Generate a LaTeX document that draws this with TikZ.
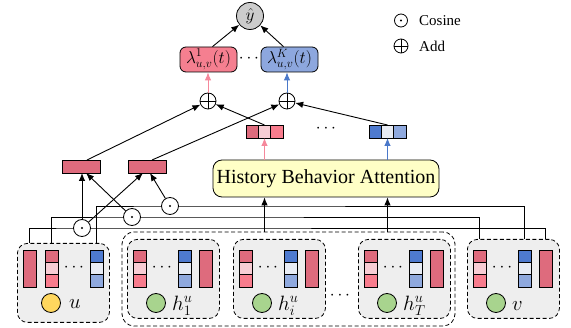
\documentclass[tikz,border=0pt]{standalone}
\usepackage{fontspec}
\setmainfont{Liberation Serif}
\usetikzlibrary{arrows.meta,calc,backgrounds}

\definecolor{barred}{HTML}{DE6B7D}
\definecolor{cellpale}{HTML}{F7CDD4}
\definecolor{cellpink}{HTML}{F87C8D}
\definecolor{celldblue}{HTML}{4E7ACF}
\definecolor{cellpaleblue}{HTML}{E8ECF4}
\definecolor{cellmblue}{HTML}{8FA9DE}
\definecolor{lamred}{HTML}{F57F90}
\definecolor{lamblue}{HTML}{8DA7DE}
\definecolor{hbayellow}{HTML}{FFFFC6}
\definecolor{boxgray}{HTML}{EEEEEE}
\definecolor{ucircle}{HTML}{FFD75E}
\definecolor{hcircle}{HTML}{A8D48E}
\definecolor{yhatgray}{HTML}{CCCCCC}
\definecolor{arrpink}{HTML}{F5889B}
\definecolor{arrblue}{HTML}{4A78C9}

\tikzset{
  cell/.style={draw, line width=0.8pt, minimum width=13pt, minimum height=12.33pt,
    inner sep=0pt, outer sep=0pt},
  tallbar/.style={cell, minimum height=37pt, fill=barred},
  hcell/.style={draw, line width=0.8pt, minimum width=12.33pt, minimum height=13pt,
    inner sep=0pt, outer sep=0pt},
  flatbar/.style={draw, line width=0.8pt, fill=barred, minimum width=38pt,
    minimum height=13pt, inner sep=0pt, outer sep=0pt},
  embbox/.style={draw, line width=0.8pt, dash pattern=on 4pt off 2.5pt, fill=boxgray,
    rounded corners=10pt, minimum width=92pt, minimum height=79pt, inner sep=0pt},
  groupbox/.style={draw, line width=0.8pt, dash pattern=on 4pt off 2.5pt,
    rounded corners=12pt, minimum width=333pt, minimum height=94pt, inner sep=0pt},
  embdot/.style={circle, draw, line width=0.8pt, minimum size=19pt, inner sep=0pt},
  lambox/.style={draw, line width=0.8pt, rounded corners=6pt, minimum width=57pt,
    minimum height=25pt, inner sep=0pt, font=\fontsize{18.5}{20}\selectfont},
  arr/.style={-{Latex[length=8pt,width=6.5pt]}, line width=0.9pt},
  wire/.style={line width=0.8pt},
  cosnode/.style={circle, draw, fill=white, minimum size=17pt, inner sep=0pt,
    line width=0.8pt,
    path picture={\fill[black] (path picture bounding box.center) circle (1.2pt);}},
  addnode/.style={circle, draw, fill=white, minimum size=16pt, inner sep=0pt,
    line width=0.8pt,
    path picture={\draw[line width=0.8pt]
      (path picture bounding box.north) -- (path picture bounding box.south)
      (path picture bounding box.west) -- (path picture bounding box.east);}},
  dotsnode/.style={inner sep=0pt, font=\fontsize{17}{20}\selectfont},
  mathlabel/.style={inner sep=0pt, anchor=base west, font=\fontsize{22}{25}\selectfont},
  legendtext/.style={inner sep=0pt, anchor=base west, font=\fontsize{15}{18}\selectfont},
}

% a column vector of three cells: name, x centre, top/middle/bottom colours
\newcommand{\vstack}[5]{%
  \node[cell, fill=#3] (#1-1) at (#2,256.17) {};
  \node[cell, fill=#4] (#1-2) at (#2,268.5) {};
  \node[cell, fill=#5] (#1-3) at (#2,280.83) {};
}
% a row vector of three cells: name, x of left edge, y centre, left/middle/right colours
\newcommand{\hstack}[6]{%
  \node[hcell, fill=#4] (#1-1) at ({#2+6.17},#3) {};
  \node[hcell, fill=#5] (#1-2) at ({#2+18.5},#3) {};
  \node[hcell, fill=#6] (#1-3) at ({#2+30.83},#3) {};
}
% one history item or the target item: name, left edge, circle colour, label
\newcommand{\member}[4]{%
  \node[embbox, anchor=north west] (#1) at (#2,239) {};
  \vstack{#1s}{#2+12.5}{barred}{cellpale}{cellpink}
  \node[dotsnode] (#1d) at ({#2+35},268) {$\cdots$};
  \vstack{#1b}{#2+57.5}{celldblue}{cellpaleblue}{cellmblue}
  \node[tallbar] (#1r) at ({#2+78.5},268.5) {};
  \node[embdot, fill=#3] (#1c) at ({#2+29},303) {};
  \node[mathlabel] (#1l) at ({#2+45},310.5) {#4};
}

\begin{document}
\begin{tikzpicture}[x=1pt,y=-1pt]
\useasboundingbox (0,0) rectangle (571,328);

% output and per-type intensities
\node[circle, draw, line width=0.8pt, fill=yhatgray, minimum size=27pt, inner sep=0pt,
  font=\fontsize{19}{21}\selectfont] (yhat) at (250,16) {$\hat{y}$};
\node[lambox, fill=lamred] (lam1) at (208.5,59.5) {$\lambda^{1}_{u,v}(t)$};
\node[lambox, fill=lamblue] (lamK) at (289.5,59.5) {$\lambda^{K}_{u,v}(t)$};
\node[dotsnode, font=\fontsize{16}{18}\selectfont] (lamdots) at (249,59) {$\cdots$};

\node[addnode] (add1) at (208,101) {};
\node[addnode] (add2) at (287,101) {};

% legend
\node[cosnode, minimum size=13pt] (lgcos) at (401,20.5) {};
\node[legendtext] (lgcostext) at (419,26) {Cosine};
\node[addnode, minimum size=14pt] (lgadd) at (401,46) {};
\node[legendtext] (lgaddtext) at (419,52) {Add};

% attention outputs
\hstack{pv}{246}{131.5}{barred}{cellpale}{cellpink}
\node[dotsnode] (vecdots) at (326,129) {$\cdots$};
\hstack{bv}{369}{131.5}{celldblue}{cellpaleblue}{cellmblue}

\node[draw, line width=0.8pt, fill=hbayellow, rounded corners=9pt, minimum width=226pt,
  minimum height=37pt, inner sep=0pt, font=\fontsize{20}{22}\selectfont]
  (hba) at (326,178.5) {History Behavior Attention};

% similarity features
\node[flatbar] (bar1) at (81,166.5) {};
\node[flatbar] (bar2) at (147,166.5) {};

\node[cosnode] (c1) at (82,228) {};
\node[cosnode] (c2) at (132,217) {};
\node[cosnode] (c3) at (170,206) {};

% user item
\node[embbox, anchor=north west] (ubox) at (17,243) {};
\node[tallbar] (ur) at (29.5,268.5) {};
\vstack{us}{51.5}{barred}{cellpale}{cellpink}
\node[dotsnode] (ud) at (74,268) {$\cdots$};
\vstack{ub}{96.5}{celldblue}{cellpaleblue}{cellmblue}
\node[embdot, fill=ucircle] (uc) at (51,303) {};
\node[mathlabel] (ul) at (69,309) {$u$};

% history items and target item
\node[groupbox] (hgroup) at (288.5,279) {};
\member{ha}{127}{hcircle}{$h^{u}_{1}$}
\member{hb}{233}{hcircle}{$h^{u}_{i}$}
\node[dotsnode] (hdots) at (340,296) {$\cdots$};
\member{hc}{358}{hcircle}{$h^{u}_{T}$}
\member{v}{467}{hcircle}{$v$}

% wires from the user item to the target item through the cosine units
\begin{scope}[on background layer]
  \draw[wire] (ur |- ubox.north) |- (c1.center) -| (vr |- v.north);
  \draw[wire] (us-1 |- ubox.north) |- (c2.center) -| (vs-1 |- v.north);
  \draw[wire] (ub-1 |- ubox.north) |- (c3.center) -| (vb-1 |- v.north);
\end{scope}

% arrows
\draw[arr] (c1.north) -- (c1.north |- bar1.south);
\draw[arr] (c1) -- ($(bar2.south)+(-4,0)$);
\draw[arr] (c2) -- ($(bar1.south)+(5,0)$);
\draw[arr] (c3) -- ($(bar2.south)+(3,0)$);

\draw[arr] (hgroup.north -| pv-2) -- (hba.south -| pv-2);
\draw[arr] (hgroup.north -| bv-2) -- (hba.south -| bv-2);
\draw[arr, arrpink] (hba.north -| pv-2) -- (pv-2.south);
\draw[arr, arrblue] (hba.north -| bv-2) -- (bv-2.south);

\draw[arr] ($(bar1.north)+(6,0)$) -- (add1);
\draw[arr] ($(bar2.north)+(5,0)$) -- (add2);
\draw[arr] (pv-2.north) -- (add1);
\draw[arr] (bv-2.north) -- (add2);

\draw[arr, arrpink] (add1.north) -- (add1.north |- lam1.south);
\draw[arr, arrblue] (add2.north) -- (add2.north |- lamK.south);

\draw[arr] ($(lam1.north)+(4,0)$) -- (yhat);
\draw[arr] ($(lamK.north)+(-6,0)$) -- (yhat);
\end{tikzpicture}
\end{document}
